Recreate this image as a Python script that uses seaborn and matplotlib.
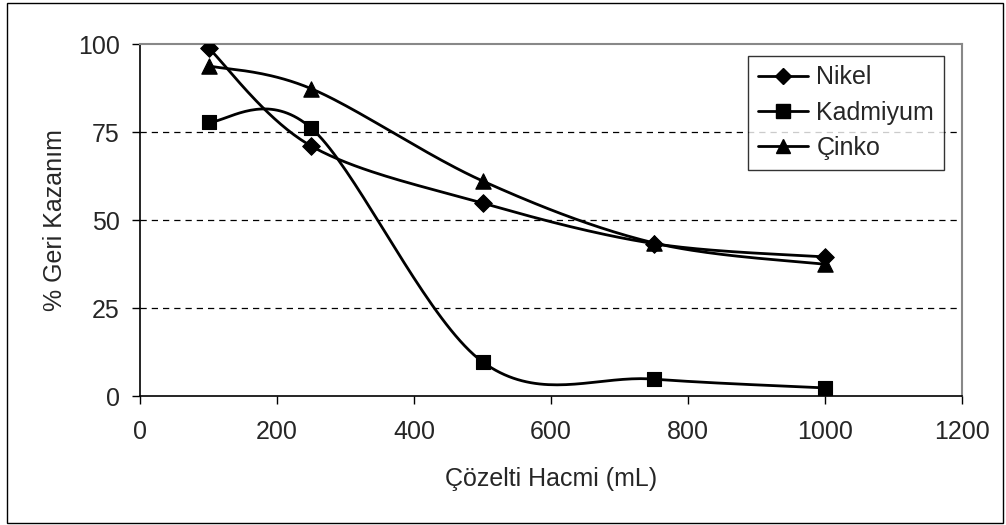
import numpy as np
import pandas as pd
import matplotlib
matplotlib.use("Agg")
import matplotlib.pyplot as plt
import seaborn as sns
from matplotlib.patches import Rectangle
from matplotlib.lines import Line2D

volume = [100, 250, 500, 750, 1000]
nikel = [98.9, 71.0, 54.8, 43.3, 39.5]
kadmiyum = [77.8, 76.1, 9.7, 4.8, 2.3]
cinko = [93.8, 87.3, 61.1, 43.5, 37.4]
series_names = ["Nikel", "Kadmiyum", "Çinko"]
markers = {"Nikel": "D", "Kadmiyum": "s", "Çinko": "^"}
msizes = {"Nikel": 9, "Kadmiyum": 10, "Çinko": 11}
x_ticks = [0, 200, 400, 600, 800, 1000, 1200]
y_ticks = [0, 25, 50, 75, 100]

sns.set_theme(style="white")
plt.rcParams['font.family'] = ['Liberation Sans', 'DejaVu Sans']

def smooth(xs, ys, n=40):
    # Excel-style smoothed line (cardinal Bezier, tension 1/6)
    P = np.column_stack([xs, ys]).astype(float)
    out = []
    for i in range(len(P) - 1):
        p0 = P[i - 1] if i > 0 else P[i]
        p1 = P[i]
        p2 = P[i + 1]
        p3 = P[i + 2] if i + 2 < len(P) else P[i + 1]
        c1 = p1 + (p2 - p0) / 6
        c2 = p2 - (p3 - p1) / 6
        t = np.linspace(0, 1, n)[:, None]
        b = (1 - t) ** 3 * p1 + 3 * (1 - t) ** 2 * t * c1 + 3 * (1 - t) * t ** 2 * c2 + t ** 3 * p2
        out.append(b if i == 0 else b[1:])
    return np.vstack(out)

fig = plt.figure(figsize=(10.06, 5.25), dpi=100)
ax = fig.add_axes([140 / 1006, 1 - 396 / 525, (962 - 140) / 1006, (396 - 44) / 525])

data = {"Nikel": nikel, "Kadmiyum": kadmiyum, "Çinko": cinko}
rows = []
for name in series_names:
    for xv, yv in zip(volume, data[name]):
        rows.append({"Hacim": xv, "Geri": yv, "Seri": name})
df = pd.DataFrame(rows)

for name in series_names:
    sub = df[df["Seri"] == name]
    curve = smooth(sub["Hacim"].values, sub["Geri"].values)
    sns.lineplot(x=curve[:, 0], y=curve[:, 1], ax=ax, color="black", lw=2, sort=False,
                 estimator=None, legend=False)
    sns.scatterplot(x=sub["Hacim"], y=sub["Geri"], ax=ax, marker=markers[name],
                    s=msizes[name] ** 2, color="black", edgecolor="black", zorder=5, legend=False)

for yv in [25, 50, 75]:
    ax.axhline(yv, color="black", lw=0.9, ls=(0, (5, 4)), zorder=0)

ax.set_xlim(0, 1200)
ax.set_ylim(0, 100)
ax.set_xticks(x_ticks)
ax.set_yticks(y_ticks)
ax.tick_params(axis="both", direction="out", length=6, width=1, color="black",
               labelsize=18, pad=11, bottom=True, left=True)
ax.tick_params(axis="y", pad=8.5)
for s in ["left", "bottom"]:
    ax.spines[s].set_color("black")
    ax.spines[s].set_linewidth(1.2)
for s in ["top", "right"]:
    ax.spines[s].set_color("#888888")
    ax.spines[s].set_linewidth(1.5)
ax.set_xlabel("Çözelti Hacmi (mL)", fontsize=18, labelpad=16.5)
ax.set_ylabel("% Geri Kazanım", fontsize=18, labelpad=8)

handles = [Line2D([0], [0], color="black", lw=2, marker=markers[n], markersize=msizes[n] * 0.95)
           for n in series_names]
leg = ax.legend(handles, series_names, loc="upper left",
                bbox_to_anchor=((748 - 140) / 822, 1 - (56 - 44) / 352),
                frameon=True, fontsize=18, handlelength=2.0, borderpad=0.38, labelspacing=0.45,
                handletextpad=0.35, fancybox=False, borderaxespad=0)
leg.get_frame().set_edgecolor("black")
leg.get_frame().set_linewidth(1)

fig.patches.append(Rectangle((7 / 1006, 2 / 525), 996 / 1006, 520 / 525, transform=fig.transFigure,
                             fill=False, edgecolor="black", lw=1))

fig.savefig("out.png", dpi=100)
